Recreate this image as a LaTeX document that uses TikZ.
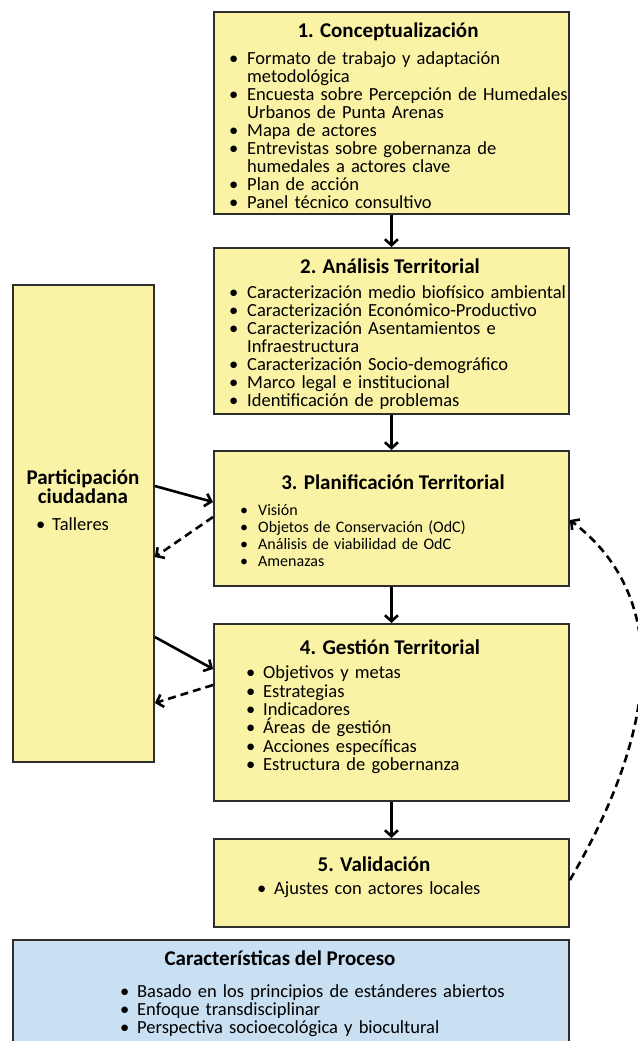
\documentclass[tikz,border=0pt]{standalone}
\usepackage{fontspec}
\setmainfont{Carlito}
\usetikzlibrary{arrows.meta}

\definecolor{yfill}{HTML}{FAF3A6}
\definecolor{bfill}{HTML}{C9DFF2}
\definecolor{edge}{HTML}{2E2E2E}

% bullet item with hanging indent
\newlength{\bulind}
\newcommand{\itm}[1]{\par\hangindent=\bulind\hangafter=1\noindent\makebox[\bulind][l]{•}#1}
\newcommand{\firstln}[1]{\rule{0pt}{#1}}
% fixed line pitch regardless of glyph heights
\newcommand{\tightlines}{\lineskiplimit=-30pt\relax}

\begin{document}
\begin{tikzpicture}[x=1pt,y=-1pt,
  panel/.style={draw=edge, line width=1.9pt, anchor=north west, inner sep=0pt},
  ybox/.style={panel, fill=yfill},
  bbox/.style={panel, fill=bfill},
  ttl/.style={font={\bfseries\fontsize{21}{19}\selectfont\tightlines}, anchor=base, inner sep=0pt},
  lst/.style={font={\fontsize{18.5}{18}\selectfont\tightlines}, anchor=north west, inner sep=0pt, text width=390pt, align=left},
  flow/.style={line width=2.6pt, draw=black, -{Straight Barb[length=6pt,width=13pt,line width=2.6pt]}},
  back/.style={flow, dash pattern=on 8pt off 5pt}
]
\useasboundingbox (0,0) rectangle (637,1041);

% process stages
\node[ybox, minimum width=355pt, minimum height=202pt] (b1) at (213,11) {};
\node[ybox, minimum width=355pt, minimum height=166pt] (b2) at (213,247) {};
\node[ybox, minimum width=355pt, minimum height=135pt] (b3) at (213,450) {};
\node[ybox, minimum width=355pt, minimum height=177pt] (b4) at (213,623) {};
\node[ybox, minimum width=355pt, minimum height=88pt]  (b5) at (213,838) {};
% citizen participation
\node[ybox, minimum width=141pt, minimum height=477pt] (part) at (12,284) {};
% process characteristics
\node[bbox, minimum width=556pt, minimum height=130pt] (car) at (12,939) {};

% stage 1
\node[ttl] (t1) at (388,38) {1. Conceptualización};
\node[lst] (l1) at (229,46) {\setlength{\bulind}{18pt}%
  \itm{\firstln{15pt}Formato de trabajo y adaptación\newline metodológica}%
  \itm{Encuesta sobre Percepción de Humedales\newline Urbanos de Punta Arenas}%
  \itm{Mapa de actores}%
  \itm{Entrevistas sobre gobernanza de\newline humedales a actores clave}%
  \itm{Plan de acción}%
  \itm{Panel técnico consultivo}};

% stage 2
\node[ttl] (t2) at (390,273) {2. Análisis Territorial};
\node[lst] (l2) at (229,280) {\setlength{\bulind}{18pt}%
  \itm{\firstln{15pt}Caracterización medio biofísico ambiental}%
  \itm{Caracterización Económico-Productivo}%
  \itm{Caracterización Asentamientos e\newline Infraestructura}%
  \itm{Caracterización Socio-demográfico}%
  \itm{Marco legal e institucional}%
  \itm{Identificación de problemas}};

% stage 3
\node[ttl] (t3) at (393,489) {3. Planificación Territorial};
\node[lst, font={\fontsize{16}{16.7}\selectfont\tightlines}] (l3) at (240,499) {\setlength{\bulind}{18pt}%
  \itm{\firstln{13pt}Visión}%
  \itm{Objetos de Conservación (OdC)}%
  \itm{Análisis de viabilidad de OdC}%
  \itm{Amenazas}};

% stage 4
\node[ttl] (t4) at (390,654) {4. Gestión Territorial};
\node[lst, font={\fontsize{18.5}{18.4}\selectfont\tightlines}] (l4) at (246,660) {\setlength{\bulind}{17pt}%
  \itm{\firstln{15pt}Objetivos y metas}%
  \itm{Estrategias}%
  \itm{Indicadores}%
  \itm{Áreas de gestión}%
  \itm{Acciones específicas}%
  \itm{Estructura de gobernanza}};

% stage 5
\node[ttl] (t5) at (374,871) {5. Validación};
\node[lst] (l5) at (257,876) {\setlength{\bulind}{17pt}%
  \itm{\firstln{15pt}Ajustes con actores locales}};

% participation panel
\node[ttl, anchor=north, align=center] (tp) at (83,467) {\firstln{17pt}Participación\\ciudadana};
\node[lst] (lp) at (36,512) {\setlength{\bulind}{16pt}%
  \itm{\firstln{15pt}Talleres}};

% characteristics panel
\node[ttl] (tc) at (280,965) {Características del Proceso};
\node[lst] (lc) at (120,979) {\setlength{\bulind}{17pt}%
  \itm{\firstln{15pt}Basado en los principios de estánderes abiertos}%
  \itm{Enfoque transdisciplinar}%
  \itm{Perspectiva socioecológica y biocultural}};

% main sequence
\draw[flow] (b1.south) -- (b2.north);
\draw[flow] (b2.south) -- (b3.north);
\draw[flow] (b3.south) -- (b4.north);
\draw[flow] (b4.south) -- (b5.north);

% participation exchanges
\draw[flow] ([yshift=-202pt]part.north east) -- ([yshift=-52pt]b3.north west);
\draw[back] ([yshift=-67pt]b3.north west) -- ([yshift=-273pt]part.north east);
\draw[flow] ([yshift=-353pt]part.north east) -- ([yshift=-46pt]b4.north west);
\draw[back] ([yshift=-62pt]b4.north west) -- ([yshift=-419pt]part.north east);

% validation feedback loop
\draw[back] ([yshift=-42pt]b5.north east) .. controls (655,735) and (675,600) .. ([yshift=-70pt]b3.north east);
\end{tikzpicture}
\end{document}
